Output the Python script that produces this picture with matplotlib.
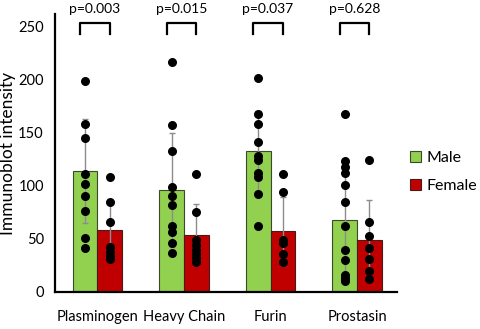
import matplotlib.pyplot as plt
import numpy as np

plt.rcParams['font.family'] = ['Lato', 'DejaVu Sans']

# dados
categorias = ["Plasminogen", "Heavy Chain", "Furin", "Prostasin"]
media_m = [114, 96, 133, 68]
media_f = [58.5, 54, 57.5, 49]
dp_m = [49, 54, 38, 52]
dp_f = [27, 29, 32, 38]
pvalores = ["p=0.003", "p=0.015", "p=0.037", "p=0.628"]

pontos_m = [
    [199, 158, 145, 111, 102, 90, 76, 51, 41],
    [217, 157, 133, 99, 90, 82, 62, 57, 46, 37],
    [202, 168, 158, 141, 128, 124, 112, 108, 92, 62],
    [168, 123, 118, 112, 101, 85, 62, 40, 30, 16, 13, 10],
]
pontos_f = [
    [108, 85, 66, 42, 38, 34, 31],
    [111, 75, 49, 44, 40, 36, 32, 28],
    [111, 94, 49, 46, 36, 28],
    [124, 66, 53, 41, 31, 20, 12],
]

verde = "#92D050"
vermelho = "#C00000"
largura = 0.285

fig = plt.figure(figsize=(4.81, 3.29), dpi=100)
ax = fig.add_axes([0.1143, 0.1125, 0.711, 0.845])

x = np.arange(len(categorias))
xm = x - largura / 2
xf = x + largura / 2

ax.bar(xm, media_m, largura, color=verde, edgecolor="#3b4a2a", linewidth=0.8, label="Male", zorder=1)
ax.bar(xf, media_f, largura, color=vermelho, edgecolor="#4a1a1a", linewidth=0.8, label="Female", zorder=1)
ax.errorbar(xm, media_m, yerr=dp_m, fmt="none", ecolor="#8c8c8c", elinewidth=1, capsize=2, zorder=2)
ax.errorbar(xf, media_f, yerr=dp_f, fmt="none", ecolor="#8c8c8c", elinewidth=1, capsize=2, zorder=2)

for i in range(len(categorias)):
    ax.scatter([xm[i]] * len(pontos_m[i]), pontos_m[i], s=30, color="black", zorder=3)
    ax.scatter([xf[i]] * len(pontos_f[i]), pontos_f[i], s=30, color="black", zorder=3)
    # colchete e valor de p
    esq = x[i] - 0.2
    dir = x[i] + 0.14
    ax.plot([esq, esq, dir, dir], [243, 253.5, 253.5, 243], color="black", lw=1.6, clip_on=False)
    ax.text((esq + dir) / 2, 261, pvalores[i], ha="center", va="bottom", fontsize=10, clip_on=False)

ax.set_xlim(-0.49, 3.46)
ax.set_ylim(0, 262)
ax.set_yticks([0, 50, 100, 150, 200, 250])
ax.set_xticks(x)
ax.set_xticklabels(categorias, fontsize=10.5)
ax.tick_params(axis="y", labelsize=10.5, length=0, pad=8)
ax.tick_params(axis="x", length=0, pad=13)
ax.spines["top"].set_visible(False)
ax.spines["right"].set_visible(False)
ax.spines["left"].set_linewidth(1.6)
ax.spines["bottom"].set_linewidth(1.6)
ax.set_ylabel("Immunoblot intensity", fontsize=12.5)
ax.yaxis.set_label_coords(-0.115, 0.5)

fig.legend(loc="center left", bbox_to_anchor=(0.852, 0.477), frameon=False, fontsize=11.5,
           handlelength=0.7, handleheight=0.7, handletextpad=0.35, labelspacing=0.85,
           borderaxespad=0, borderpad=0)

fig.savefig("out.png", dpi=100)
